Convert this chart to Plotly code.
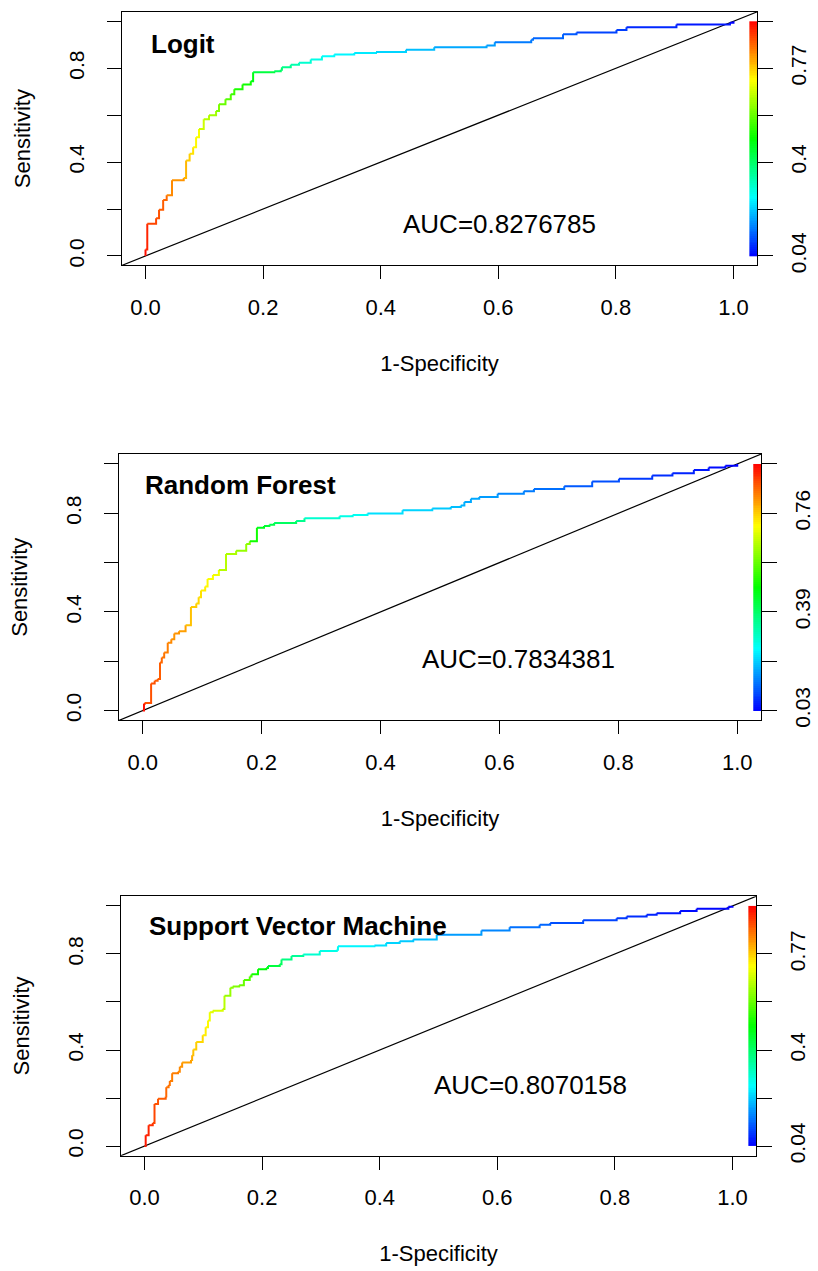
import colorsys
import plotly.graph_objects as go

# ---------------- data ----------------
TITLES = ["Logit", "Random Forest", "Support Vector Machine"]
AUC_LABELS = ["AUC=0.8276785", "AUC=0.7834381", "AUC=0.8070158"]
X_TICKS = [0.0, 0.2, 0.4, 0.6, 0.8, 1.0]
X_TICK_TEXT = ["0.0", "0.2", "0.4", "0.6", "0.8", "1.0"]
Y_TICK_TEXT = ["0.0", "", "0.4", "", "0.8", ""]

# Logit ROC curve (false positive rate, true positive rate, cutoff)
FPR_LOGIT = [0.0, 0.0, 0.003, 0.018, 0.023, 0.030, 0.036, 0.045, 0.065, 0.069, 0.075, 0.081,
             0.086, 0.091, 0.099, 0.108, 0.120, 0.125, 0.136, 0.145, 0.151, 0.165, 0.179, 0.183,
             0.219, 0.230, 0.232, 0.247, 0.261, 0.281, 0.300, 0.321, 0.355, 0.392, 0.443, 0.491,
             0.580, 0.594, 0.656, 0.659, 0.710, 0.733, 0.801, 0.818, 0.903, 0.994, 1.0]
TPR_LOGIT = [0.0, 0.027, 0.137, 0.161, 0.197, 0.238, 0.259, 0.323, 0.332, 0.407, 0.435, 0.463,
             0.506, 0.541, 0.583, 0.600, 0.618, 0.646, 0.668, 0.689, 0.710, 0.731, 0.745, 0.783,
             0.787, 0.794, 0.804, 0.815, 0.823, 0.837, 0.851, 0.858, 0.865, 0.869, 0.879, 0.889,
             0.897, 0.911, 0.921, 0.928, 0.945, 0.952, 0.963, 0.975, 0.986, 0.994, 1.0]
CUT_LOGIT = [0.95, 0.94, 0.92, 0.89, 0.88, 0.87, 0.86, 0.83, 0.82, 0.79, 0.77, 0.75,
             0.73, 0.72, 0.68, 0.66, 0.64, 0.61, 0.59, 0.57, 0.55, 0.52, 0.51, 0.48,
             0.44, 0.41, 0.40, 0.37, 0.34, 0.31, 0.29, 0.27, 0.26, 0.25, 0.23, 0.21,
             0.19, 0.18, 0.15, 0.145, 0.13, 0.12, 0.10, 0.095, 0.075, 0.06, 0.04]

# Random forest ROC curve
FPR_RF = [0.0, 0.002, 0.003, 0.014, 0.020, 0.025, 0.029, 0.032, 0.036, 0.042, 0.048, 0.053,
          0.061, 0.072, 0.081, 0.090, 0.094, 0.098, 0.105, 0.109, 0.118, 0.128, 0.140, 0.157,
          0.174, 0.180, 0.192, 0.204, 0.213, 0.221, 0.258, 0.272, 0.331, 0.353, 0.378, 0.437,
          0.487, 0.518, 0.535, 0.541, 0.552, 0.566, 0.597, 0.641, 0.658, 0.709, 0.756, 0.801,
          0.857, 0.891, 0.927, 0.952, 0.980, 1.0]
TPR_RF = [0.0, 0.027, 0.031, 0.110, 0.121, 0.128, 0.195, 0.215, 0.235, 0.275, 0.289, 0.313,
          0.322, 0.346, 0.420, 0.434, 0.460, 0.487, 0.503, 0.534, 0.550, 0.570, 0.635, 0.648,
          0.675, 0.687, 0.741, 0.748, 0.754, 0.761, 0.769, 0.780, 0.788, 0.793, 0.799, 0.812,
          0.819, 0.826, 0.832, 0.846, 0.859, 0.866, 0.879, 0.889, 0.899, 0.910, 0.929, 0.940,
          0.953, 0.962, 0.976, 0.986, 0.993, 1.0]
CUT_RF = [0.94, 0.93, 0.92, 0.87, 0.87, 0.86, 0.86, 0.85, 0.84, 0.83, 0.82, 0.81,
          0.81, 0.80, 0.77, 0.76, 0.75, 0.74, 0.73, 0.72, 0.71, 0.70, 0.65, 0.64,
          0.62, 0.61, 0.50, 0.46, 0.44, 0.42, 0.40, 0.36, 0.30, 0.28, 0.27, 0.23,
          0.22, 0.21, 0.20, 0.19, 0.18, 0.18, 0.17, 0.15, 0.14, 0.13, 0.11, 0.10,
          0.08, 0.07, 0.06, 0.05, 0.04, 0.03]

# Support vector machine ROC curve
FPR_SVM = [0.0, 0.002, 0.007, 0.014, 0.017, 0.023, 0.036, 0.037, 0.041, 0.043, 0.047, 0.057,
           0.060, 0.064, 0.079, 0.081, 0.083, 0.088, 0.099, 0.104, 0.108, 0.111, 0.116, 0.133,
           0.136, 0.146, 0.150, 0.161, 0.169, 0.179, 0.182, 0.193, 0.207, 0.210, 0.230, 0.233,
           0.250, 0.270, 0.298, 0.327, 0.329, 0.391, 0.411, 0.434, 0.457, 0.497, 0.573, 0.621,
           0.672, 0.690, 0.746, 0.803, 0.820, 0.854, 0.871, 0.911, 0.939, 0.993, 1.0]
TPR_SVM = [0.0, 0.045, 0.087, 0.096, 0.175, 0.197, 0.206, 0.245, 0.254, 0.271, 0.303, 0.309,
           0.330, 0.348, 0.358, 0.378, 0.402, 0.433, 0.461, 0.495, 0.523, 0.557, 0.564, 0.571,
           0.626, 0.659, 0.664, 0.670, 0.692, 0.706, 0.715, 0.736, 0.741, 0.750, 0.757, 0.777,
           0.791, 0.798, 0.812, 0.818, 0.832, 0.835, 0.846, 0.853, 0.860, 0.880, 0.898, 0.911,
           0.922, 0.929, 0.940, 0.949, 0.956, 0.963, 0.970, 0.979, 0.988, 0.997, 1.0]
CUT_SVM = [0.95, 0.93, 0.92, 0.91, 0.89, 0.88, 0.87, 0.86, 0.85, 0.85, 0.84, 0.84,
           0.83, 0.82, 0.81, 0.80, 0.78, 0.77, 0.76, 0.74, 0.73, 0.71, 0.70, 0.69,
           0.66, 0.63, 0.62, 0.61, 0.59, 0.57, 0.56, 0.51, 0.49, 0.47, 0.44, 0.41,
           0.38, 0.36, 0.31, 0.29, 0.28, 0.26, 0.24, 0.23, 0.22, 0.21, 0.18, 0.16,
           0.14, 0.13, 0.11, 0.10, 0.09, 0.08, 0.07, 0.06, 0.05, 0.045, 0.04]

# colour key (cutoff) labels and cutoff ranges
CBAR_LABELS = [["0.04", "", "0.4", "", "0.77", ""],
               ["0.03", "", "0.39", "", "0.76", ""],
               ["0.04", "", "0.4", "", "0.77", ""]]
CBAR_MIN = [0.04, 0.03, 0.04]
CBAR_MAX = [0.9525, 0.9425, 0.9525]

CURVES = [(FPR_LOGIT, TPR_LOGIT, CUT_LOGIT),
          (FPR_RF, TPR_RF, CUT_RF),
          (FPR_SVM, TPR_SVM, CUT_SVM)]

# ---------------- layout / style ----------------
W, H = 818, 1271
FONT = "Liberation Sans, Arial, Helvetica, sans-serif"
BOX_PX = [(122, 757, 12, 267), (119, 761, 457, 725), (121, 756, 902, 1163)]
TITLE_POS = [(0.006, 0.905), (0.0, 0.915), (0.005, 0.915)]
AUC_POS = [(0.602, 0.135), (0.632, 0.209), (0.656, 0.256)]
RANGE = [-0.04, 1.04]
STRIP_X = [1.027, 1.04]


def rainbow(t):
    t = min(1.0, max(0.0, t))
    r, g, b = colorsys.hsv_to_rgb((1.0 - t) * 2.0 / 3.0, 1.0, 1.0)
    return "rgb(%d,%d,%d)" % (round(r * 255), round(g * 255), round(b * 255))


fig = go.Figure()
layout = dict(width=W, height=H, margin=dict(l=0, r=0, t=0, b=0),
              paper_bgcolor="white", plot_bgcolor="white", showlegend=False,
              font=dict(family=FONT, color="black"))
annotations = []

for i in range(3):
    n = i + 1
    xa = "x" if n == 1 else "x%d" % n
    yl = 2 * n - 1
    yr = 2 * n
    ya = "y" if yl == 1 else "y%d" % yl
    yra = "y%d" % yr
    x0, x1, y0, y1 = BOX_PX[i]
    xdom = [x0 / W, x1 / W]
    ydom = [1 - y1 / H, 1 - y0 / H]
    cmin, cmax = CBAR_MIN[i], CBAR_MAX[i]

    axis_common = dict(range=RANGE, showgrid=False, zeroline=False, showline=True,
                       linecolor="black", linewidth=1, mirror=True, ticks="outside",
                       tickcolor="black", tickwidth=1, tickvals=X_TICKS)
    layout["xaxis" if n == 1 else "xaxis%d" % n] = dict(
        axis_common, domain=xdom, anchor=ya, ticktext=X_TICK_TEXT, ticklen=13,
        tickfont=dict(size=22, family=FONT), ticklabelstandoff=9,
        title=dict(text="1-Specificity", font=dict(size=22, family=FONT), standoff=36))
    layout["yaxis" if yl == 1 else "yaxis%d" % yl] = dict(
        axis_common, domain=ydom, anchor=xa, ticktext=Y_TICK_TEXT, ticklen=14,
        tickangle=-90, tickfont=dict(size=21, family=FONT), ticklabelstandoff=15,
        title=dict(text="Sensitivity", font=dict(size=22, family=FONT), standoff=27))
    layout["yaxis%d" % yr] = dict(
        range=RANGE, domain=ydom, anchor=xa, overlaying=ya, side="right",
        showgrid=False, zeroline=False, showline=False, ticks="outside", ticklen=15,
        tickcolor="black", tickwidth=1, tickvals=X_TICKS, ticktext=CBAR_LABELS[i],
        tickangle=-90, tickfont=dict(size=21, family=FONT), ticklabelstandoff=8)

    # diagonal reference line
    fig.add_trace(go.Scatter(x=[RANGE[0] - 0.05, RANGE[1] + 0.05],
                             y=[RANGE[0] - 0.05, RANGE[1] + 0.05], mode="lines",
                             line=dict(color="black", width=1.2), xaxis=xa, yaxis=ya,
                             hoverinfo="skip"))

    # colour key strip
    nb = 128
    z = [[cmin + (cmax - cmin) * (k + 0.5) / nb] for k in range(nb)]
    yedges = [k / nb for k in range(nb + 1)]
    cs = [[k / 24, rainbow(k / 24)] for k in range(25)]
    fig.add_trace(go.Heatmap(x=STRIP_X, y=yedges, z=z, zmin=cmin, zmax=cmax,
                             colorscale=cs, showscale=False, xaxis=xa, yaxis=ya,
                             hoverinfo="skip"))

    # colourised step ROC curve
    fpr, tpr, cut = CURVES[i]
    for k in range(len(fpr) - 1):
        col = rainbow((cut[k + 1] - cmin) / (cmax - cmin))
        fig.add_trace(go.Scatter(x=[fpr[k], fpr[k + 1]], y=[tpr[k], tpr[k + 1]],
                                 mode="lines", line=dict(color=col, width=2, shape="hv"),
                                 xaxis=xa, yaxis=ya, hoverinfo="skip"))

    # an invisible trace so the right axis is drawn
    fig.add_trace(go.Scatter(x=[0], y=[0], mode="markers", marker=dict(opacity=0),
                             xaxis=xa, yaxis=yra, hoverinfo="skip"))

    annotations.append(dict(x=TITLE_POS[i][0], y=TITLE_POS[i][1], xref=xa, yref=ya,
                            text="<b>%s</b>" % TITLES[i], showarrow=False,
                            xanchor="left", yanchor="middle",
                            font=dict(size=26, family=FONT, color="black")))
    annotations.append(dict(x=AUC_POS[i][0], y=AUC_POS[i][1], xref=xa, yref=ya,
                            text=AUC_LABELS[i], showarrow=False,
                            xanchor="center", yanchor="middle",
                            font=dict(size=26, family=FONT, color="black")))

layout["annotations"] = annotations
fig.update_layout(**layout)
fig.write_html("out.html", config={"displayModeBar": False},
               post_script="document.body.style.margin='0';"
                           "document.body.style.overflow='hidden';")
